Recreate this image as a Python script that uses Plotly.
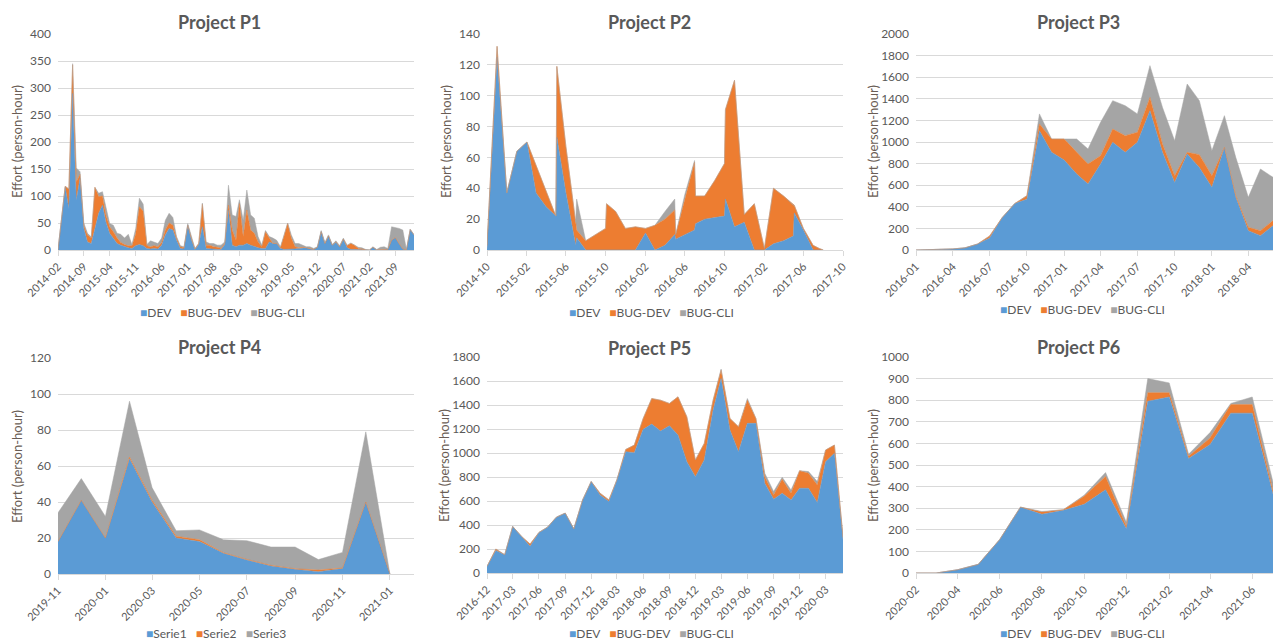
import pandas as pd
import plotly.graph_objects as go

# ---------------- data ----------------
SERIES = ["DEV", "BUG-DEV", "BUG-CLI"]
SERIES_P4 = ["Serie1", "Serie2", "Serie3"]

# Project P1 : monthly, 2014-02 .. 2022-02
p1_months = pd.date_range("2014-02-01", periods=97, freq="MS")
p1_dev = [0, 58, 116, 77, 290, 92, 133, 40, 15, 12, 40, 68, 83, 52, 31, 22, 12, 9, 6, 4,
          3, 8, 10, 8, 3, 2, 3, 2, 9, 28, 40, 37, 18, 3, 2, 46, 18, 1, 10, 43,
          3, 2, 1, 1, 1, 10, 74, 9, 6, 9, 9, 12, 9, 6, 4, 3, 3, 15, 12, 12,
          3, 1, 1, 1, 2, 3, 4, 4, 2, 1, 5, 34, 12, 26, 9, 15, 6, 20, 4, 1,
          1, 1, 1, 0, 0, 5, 0, 0, 0, 1, 18, 23, 12, 2, 0, 38, 28]
p1_bugdev = [0, 2, 2, 36, 53, 34, 7, 5, 13, 10, 76, 31, 17, 13, 12, 12, 10, 5, 4, 4,
             5, 22, 70, 64, 5, 4, 5, 4, 5, 9, 10, 9, 4, 3, 2, 0, 2, 1, 2, 42,
             6, 7, 5, 4, 2, 2, 9, 28, 12, 77, 16, 62, 28, 25, 11, 3, 31, 7, 0, 0,
             1, 24, 48, 21, 4, 1, 1, 0, 0, 0, 0, 0, 0, 0, 0, 0, 0, 0, 4, 11,
             8, 2, 1, 0, 0, 0, 0, 0, 0, 0, 0, 0, 0, 0, 0, 0, 0]
p1_bugcli = [0, 0, 0, 0, 2, 26, 5, 5, 3, 2, 0, 6, 8, 15, 6, 12, 9, 15, 12, 21,
             2, 10, 16, 13, 2, 11, 6, 6, 8, 18, 18, 14, 3, 2, 2, 3, 5, 1, 0, 2,
             6, 3, 6, 4, 6, 3, 37, 28, 44, 7, 30, 37, 28, 28, 10, 3, 2, 3, 10, 6,
             2, 1, 1, 6, 6, 8, 4, 2, 4, 2, 1, 2, 2, 2, 1, 2, 2, 2, 1, 1,
             0, 2, 2, 1, 0, 1, 1, 5, 6, 2, 25, 19, 28, 35, 1, 0, 0]

# Project P2 : irregular dates (several entries can fall in the same month)
p2_dates = ["2014-10-01", "2014-11-01", "2014-12-01", "2015-01-01", "2015-02-01",
            "2015-03-01", "2015-04-01", "2015-05-01", "2015-05-04", "2015-06-01",
            "2015-07-01", "2015-07-04", "2015-08-01", "2015-09-01", "2015-10-01",
            "2015-10-04", "2015-11-01", "2015-12-01", "2016-01-01", "2016-02-01",
            "2016-03-01", "2016-04-01", "2016-05-01", "2016-05-04", "2016-06-01",
            "2016-07-01", "2016-07-04", "2016-08-01", "2016-09-01", "2016-10-01",
            "2016-10-04", "2016-11-01", "2016-12-01", "2017-01-01", "2017-02-01",
            "2017-03-01", "2017-04-01", "2017-05-01", "2017-05-04", "2017-06-01",
            "2017-07-01", "2017-07-20", "2017-08-01"]
p2_dev = [0, 125, 37, 64, 70, 37, 28, 22, 73, 37, 3, 8, 0, 0, 0, 0, 0, 0, 0, 11,
          0, 3, 10, 7, 10, 13, 17, 20, 21, 22, 33, 15, 18, 0, 0, 4, 6, 9, 24, 13,
          0, 0, 0]
p2_bugdev = [3, 7, 0, 0, 0, 18, 10, 0, 46, 30, 15, 5, 6, 10, 14, 30, 25, 14, 15, 3,
             16, 17, 16, 3, 22, 44, 18, 15, 24, 34, 58, 95, 5, 30, 1, 36, 29, 20, 5, 1,
             3, 1, 0]
p2_bugcli = [0, 0, 0, 0, 0, 0, 0, 0, 0, 0, 0, 20, 0, 0, 0, 0, 0, 0, 0, 0,
             0, 5, 7, 0, 4, 1, 0, 0, 0, 0, 0, 0, 0, 0, 0, 0, 0, 0, 0, 0,
             0, 0, 0]

# Project P3 : monthly, 2016-01 .. 2018-06
p3_months = pd.date_range("2016-01-01", periods=30, freq="MS")
p3_dev = [0, 2, 3, 10, 20, 55, 110, 300, 430, 470, 1105, 905, 833, 704, 611, 796,
          997, 904, 997, 1290, 904, 626, 889, 765, 580, 950, 488, 179, 133, 225]
p3_bugdev = [0, 0, 0, 0, 0, 0, 20, 0, 0, 33, 62, 123, 195, 200, 185, 77,
             123, 155, 93, 123, 78, 62, 15, 118, 108, 0, 15, 31, 46, 47]
p3_bugcli = [0, 0, 0, 0, 0, 0, 0, 0, 0, 0, 93, 0, 0, 124, 139, 309,
             263, 277, 170, 294, 338, 324, 633, 500, 232, 294, 355, 278, 571, 401]

# Project P4 : monthly, 2019-11 .. 2021-01
p4_months = pd.date_range("2019-11-01", periods=15, freq="MS")
p4_s1 = [18, 41, 20, 64, 40, 20, 18, 11.5, 7.8, 4.5, 2.6, 1.3, 3, 40, 0]
p4_s2 = [0, 0, 0, 1, 1, 1, 1, 0.3, 0.3, 0.3, 0.3, 0.9, 0.3, 0, 0]
p4_s3 = [16, 12, 12, 31, 7, 3, 5.5, 7.2, 10.4, 10.2, 12.1, 5.8, 8.7, 39, 0]

# Project P5 : monthly, 2016-12 .. 2020-05
p5_months = pd.date_range("2016-12-01", periods=42, freq="MS")
p5_dev = [55, 188, 152, 388, 305, 222, 338, 382, 465, 499, 368, 609, 762, 651, 595,
          776, 1011, 1003, 1197, 1241, 1183, 1227, 1150, 928, 803, 942, 1357, 1620,
          1191, 1011, 1247, 1247, 748, 615, 665, 609, 706, 706, 587, 928, 997, 277]
p5_bugdev = [0, 12, 0, 0, 0, 19, 0, 0, 0, 0, 0, 0, 0, 14, 14, 0, 19, 63, 91, 213,
             257, 186, 318, 374, 139, 138, 83, 70, 97, 208, 193, 41, 55, 36, 116, 56,
             147, 125, 147, 97, 69, 23]
p5_bugcli = [0, 0, 0, 0, 0, 0, 0, 0, 0, 0, 0, 0, 0, 0, 0, 0, 0, 0, 0, 0,
             0, 0, 0, 0, 0, 0, 0, 10, 0, 0, 14, 0, 28, 28, 17, 27, 0, 14, 28, 0, 0, 0]

# Project P6 : monthly, 2020-02 .. 2021-07
p6_months = pd.date_range("2020-02-01", periods=18, freq="MS")
p6_dev = [0, 0, 15, 40, 155, 305, 272, 290, 318, 385, 205, 795, 815, 530, 595, 740, 740, 365]
p6_bugdev = [0, 0, 0, 0, 0, 0, 10, 3, 37, 62, 10, 40, 20, 10, 30, 40, 40, 15]
p6_bugcli = [0, 0, 0, 0, 0, 0, 3, 0, 5, 18, 20, 65, 45, 10, 25, 5, 35, 40]

# ---------------- style ----------------
COLORS = ["#5B9BD5", "#ED7D31", "#A5A5A5"]
TXT = "#595959"
AXTITLE = "#6A5D55"
GRID = "#D9D9D9"
FONT = "Lato, 'Open Sans', sans-serif"
W, H = 1277, 641

panels = [
    dict(title="Project P1", x=p1_months, ys=[p1_dev, p1_bugdev, p1_bugcli], names=SERIES,
         box=(58, 414, 34, 250), xr=("2014-02-01", "2022-02-01"), dtick="M7", ymax=400, ydt=50,
         tc=(219, 22), lg=(222, 312), yt=(17, 142)),
    dict(title="Project P2", x=pd.to_datetime(p2_dates), ys=[p2_dev, p2_bugdev, p2_bugcli], names=SERIES,
         box=(487, 843, 34, 250), xr=("2014-10-01", "2017-10-01"), dtick="M4", ymax=140, ydt=20,
         tc=(649, 22), lg=(651, 312), yt=(446, 142)),
    dict(title="Project P3", x=p3_months, ys=[p3_dev, p3_bugdev, p3_bugcli], names=SERIES,
         box=(916, 1273, 34, 250), xr=("2016-01-01", "2018-06-01"), dtick="M3", ymax=2000, ydt=200,
         tc=(1078, 22), lg=(1082, 310), yt=(873, 142)),
    dict(title="Project P4", x=p4_months, ys=[p4_s1, p4_s2, p4_s3], names=SERIES_P4,
         box=(58, 414, 358, 574), xr=("2019-11-01", "2021-02-01"), dtick="M2", ymax=120, ydt=20,
         tc=(219, 347), lg=(216, 633), yt=(17, 467)),
    dict(title="Project P5", x=p5_months, ys=[p5_dev, p5_bugdev, p5_bugcli], names=SERIES,
         box=(487, 843, 357, 573), xr=("2016-12-01", "2020-05-01"), dtick="M3", ymax=1800, ydt=200,
         tc=(649, 348), lg=(651, 633), yt=(444, 466)),
    dict(title="Project P6", x=p6_months, ys=[p6_dev, p6_bugdev, p6_bugcli], names=SERIES,
         box=(916, 1273, 357, 573), xr=("2020-02-01", "2021-07-01"), dtick="M2", ymax=1000, ydt=100,
         tc=(1078, 347), lg=(1082, 633), yt=(873, 466)),
]

fig = go.Figure()
annotations = []
layout = {}

for i, p in enumerate(panels, start=1):
    xa = "x" if i == 1 else f"x{i}"
    ya = "y" if i == 1 else f"y{i}"
    for vals, name, col in zip(p["ys"], p["names"], COLORS):
        fig.add_trace(go.Scatter(
            x=p["x"], y=vals, name=name, mode="lines",
            stackgroup=f"g{i}", fillcolor=col,
            line=dict(color=col, width=0.5),
            xaxis=xa, yaxis=ya, showlegend=False,
        ))

    x0, x1, y0, y1 = p["box"]
    layout["xaxis" if i == 1 else f"xaxis{i}"] = dict(
        domain=[x0 / W, x1 / W], anchor=ya, type="date", automargin=False,
        range=list(p["xr"]), tick0=p["xr"][0], dtick=p["dtick"], tickformat="%Y-%m",
        tickangle=-45, showgrid=False, zeroline=False,
        showline=True, linecolor=GRID, linewidth=1,
        ticks="outside", ticklen=5, tickcolor=GRID,
        tickfont=dict(family=FONT, size=11, color=TXT),
    )
    layout["yaxis" if i == 1 else f"yaxis{i}"] = dict(
        domain=[1 - y1 / H, 1 - y0 / H], anchor=xa, automargin=False,
        range=[0, p["ymax"]], dtick=p["ydt"], showgrid=True, gridcolor=GRID, gridwidth=1,
        zeroline=False, showline=False, ticks="", ticklabelstandoff=6,
        tickfont=dict(family=FONT, size=12, color=TXT),
    )

    # chart title
    annotations.append(dict(
        text=f"<b>{p['title']}</b>", x=p["tc"][0] / W, y=1 - p["tc"][1] / H,
        xref="paper", yref="paper", xanchor="center", yanchor="middle", showarrow=False,
        font=dict(family=FONT, size=18, color=TXT),
    ))
    # y-axis title
    annotations.append(dict(
        text="Effort (person-hour)", x=p["yt"][0] / W, y=1 - p["yt"][1] / H,
        xref="paper", yref="paper", xanchor="center", yanchor="middle", showarrow=False,
        textangle=-90, font=dict(family=FONT, size=13, color=AXTITLE),
    ))
    # legend row
    legend_txt = "   ".join(
        f"<span style='color:{c}'>■</span>{n}" for n, c in zip(p["names"], COLORS)
    )
    annotations.append(dict(
        text=legend_txt, x=p["lg"][0] / W, y=1 - p["lg"][1] / H,
        xref="paper", yref="paper", xanchor="center", yanchor="middle", showarrow=False,
        font=dict(family=FONT, size=12, color=TXT),
    ))

fig.update_layout(
    width=W, height=H,
    margin=dict(l=0, r=0, t=0, b=0),
    paper_bgcolor="white", plot_bgcolor="white",
    annotations=annotations,
    showlegend=False,
    **layout,
)

fig.write_html("out.html")
